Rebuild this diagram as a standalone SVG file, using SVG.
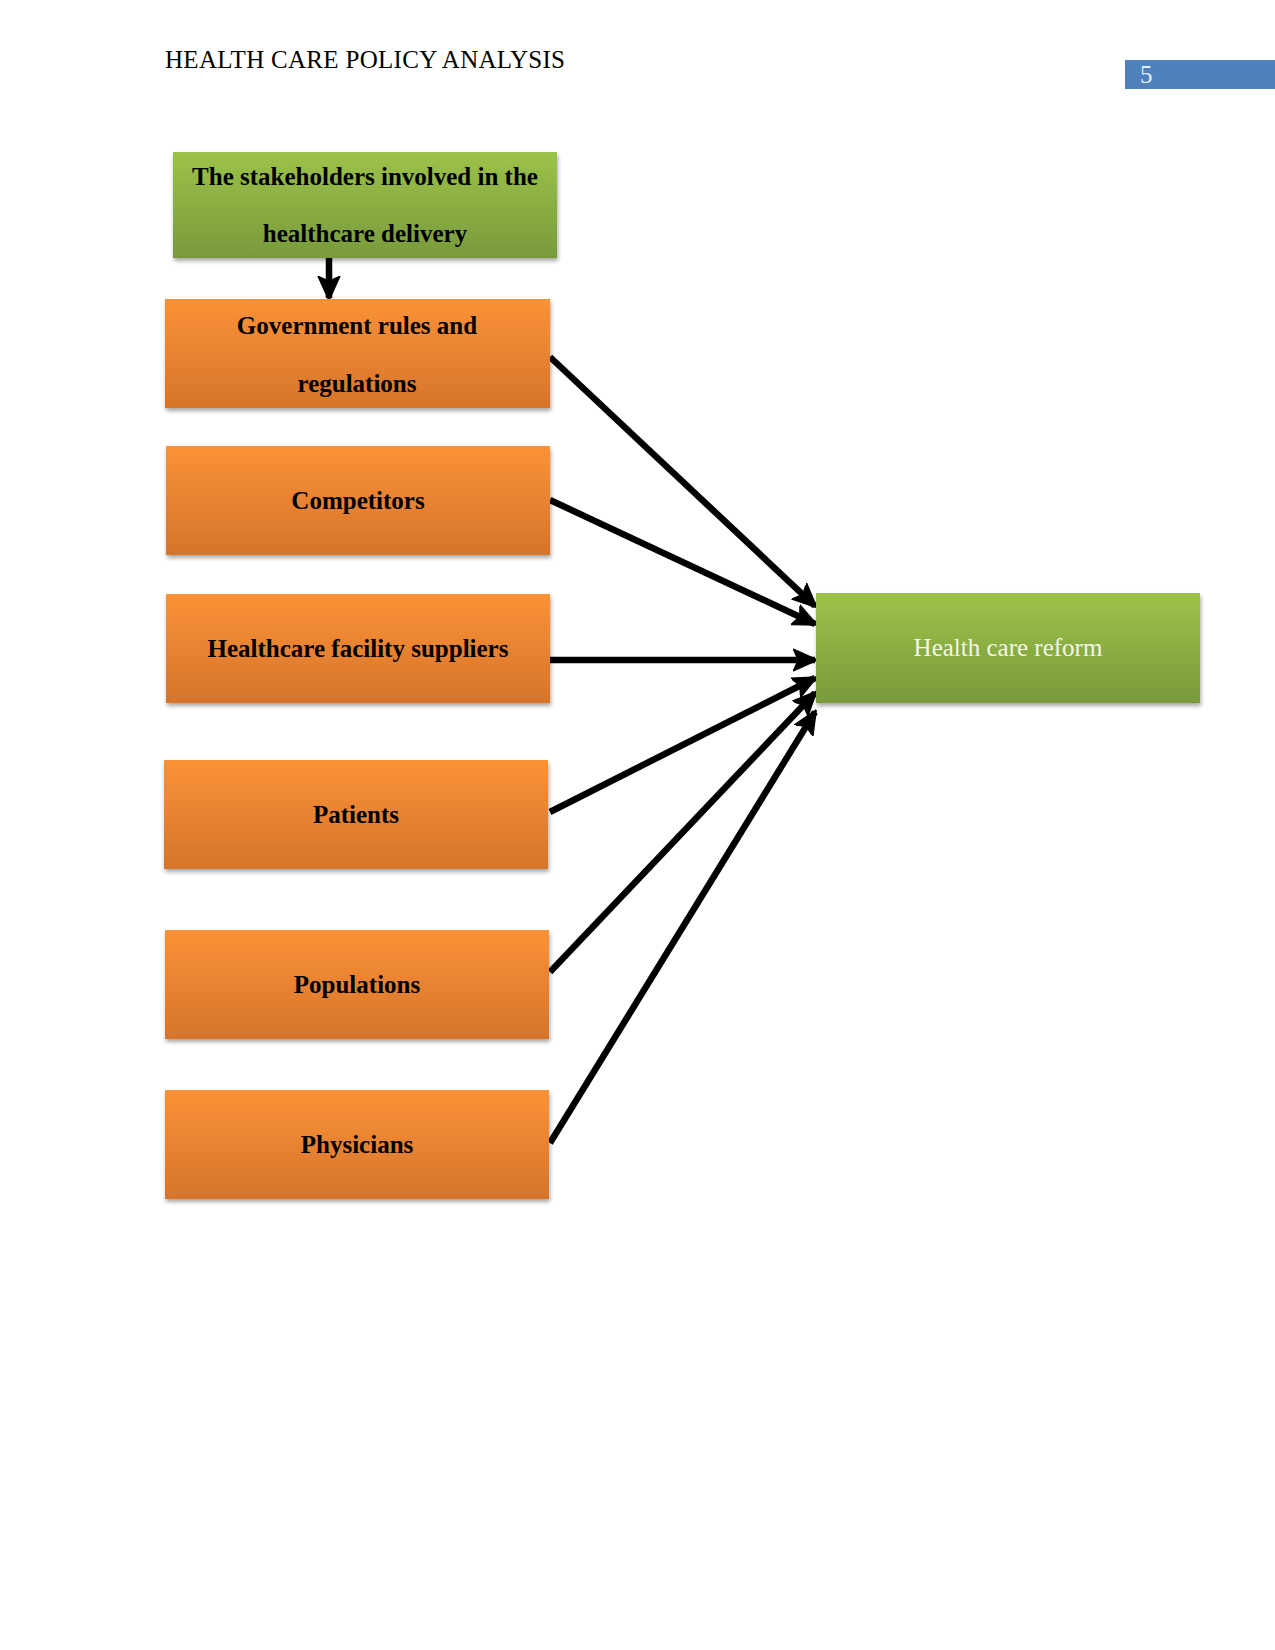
<svg xmlns="http://www.w3.org/2000/svg" width="1275" height="1650" viewBox="0 0 1275 1650">
<style>
.hdr{font-family:"Liberation Serif","Times New Roman",serif;font-size:25px;letter-spacing:0.3px;fill:#000}
.lbl{font-family:"Liberation Serif","Times New Roman",serif;font-size:25px;font-weight:bold;fill:#000;text-anchor:middle}
.lbl2{font-family:"Liberation Serif","Times New Roman",serif;font-size:25px;fill:#F4F6E6;text-anchor:middle}
.orange{fill:url(#gOrange);filter:url(#sh)}
.green{fill:url(#gGreen);filter:url(#sh)}
.conn{stroke:#000;stroke-width:6.5;fill:none;marker-end:url(#ah)}
</style>
<defs>
<linearGradient id="gOrange" x1="0" y1="0" x2="0" y2="1">
<stop offset="0" stop-color="#FB9237"/>
<stop offset="1" stop-color="#D6742B"/>
</linearGradient>
<linearGradient id="gGreen" x1="0" y1="0" x2="0" y2="1">
<stop offset="0" stop-color="#9DC249"/>
<stop offset="1" stop-color="#789A3C"/>
</linearGradient>
<filter id="sh" x="-5%" y="-10%" width="115%" height="130%">
<feGaussianBlur in="SourceAlpha" stdDeviation="2"/>
<feOffset dx="1" dy="3" result="b"/>
<feComponentTransfer><feFuncA type="linear" slope="0.35"/></feComponentTransfer>
<feMerge><feMergeNode/><feMergeNode in="SourceGraphic"/></feMerge>
</filter>
<marker id="ah" viewBox="0 0 10 10" refX="9" refY="5" markerUnits="userSpaceOnUse" markerWidth="24" markerHeight="24" orient="auto">
<path d="M0,0.5 L10,5 L0,9.5 L2,5 z" fill="#000" stroke="#000" stroke-width="0.6" stroke-linejoin="round"/>
</marker>
</defs>
<g id="header">
<text class="hdr" x="165" y="68">HEALTH CARE POLICY ANALYSIS</text>
<rect x="1125" y="60" width="150" height="29" fill="#4F81BD"/>
<text x="1140" y="83" font-family="Liberation Serif, serif" font-size="25" fill="#E8EEF8">5</text>
</g>
<g id="connectors">
<line class="conn" x1="329" y1="258" x2="329" y2="298"/>
<line class="conn" x1="550" y1="357" x2="815" y2="606"/>
<line class="conn" x1="550" y1="500" x2="815" y2="624"/>
<line class="conn" x1="550" y1="660" x2="815" y2="660"/>
<line class="conn" x1="550" y1="812" x2="815" y2="678"/>
<line class="conn" x1="550" y1="972" x2="815" y2="693"/>
<line class="conn" x1="550" y1="1143" x2="815" y2="712"/>
</g>
<g id="node-stakeholders">
<rect class="green" x="173" y="152" width="384" height="106"/>
<text class="lbl" x="365" y="185">The stakeholders involved in the</text>
<text class="lbl" x="365" y="242">healthcare delivery</text>
</g>
<g id="node-government">
<rect class="orange" x="165" y="299" width="385" height="109"/>
<text class="lbl" x="357" y="334">Government rules and</text>
<text class="lbl" x="357" y="392">regulations</text>
</g>
<g id="node-competitors">
<rect class="orange" x="166" y="446" width="384" height="109"/>
<text class="lbl" x="358" y="509">Competitors</text>
</g>
<g id="node-suppliers">
<rect class="orange" x="166" y="594" width="384" height="109"/>
<text class="lbl" x="358" y="657">Healthcare facility suppliers</text>
</g>
<g id="node-patients">
<rect class="orange" x="164" y="760" width="384" height="109"/>
<text class="lbl" x="356" y="823">Patients</text>
</g>
<g id="node-populations">
<rect class="orange" x="165" y="930" width="384" height="109"/>
<text class="lbl" x="357" y="993">Populations</text>
</g>
<g id="node-physicians">
<rect class="orange" x="165" y="1090" width="384" height="109"/>
<text class="lbl" x="357" y="1153">Physicians</text>
</g>
<g id="node-reform">
<rect class="green" x="816" y="593" width="384" height="110"/>
<text class="lbl2" x="1008" y="656">Health care reform</text>
</g>
</svg>
